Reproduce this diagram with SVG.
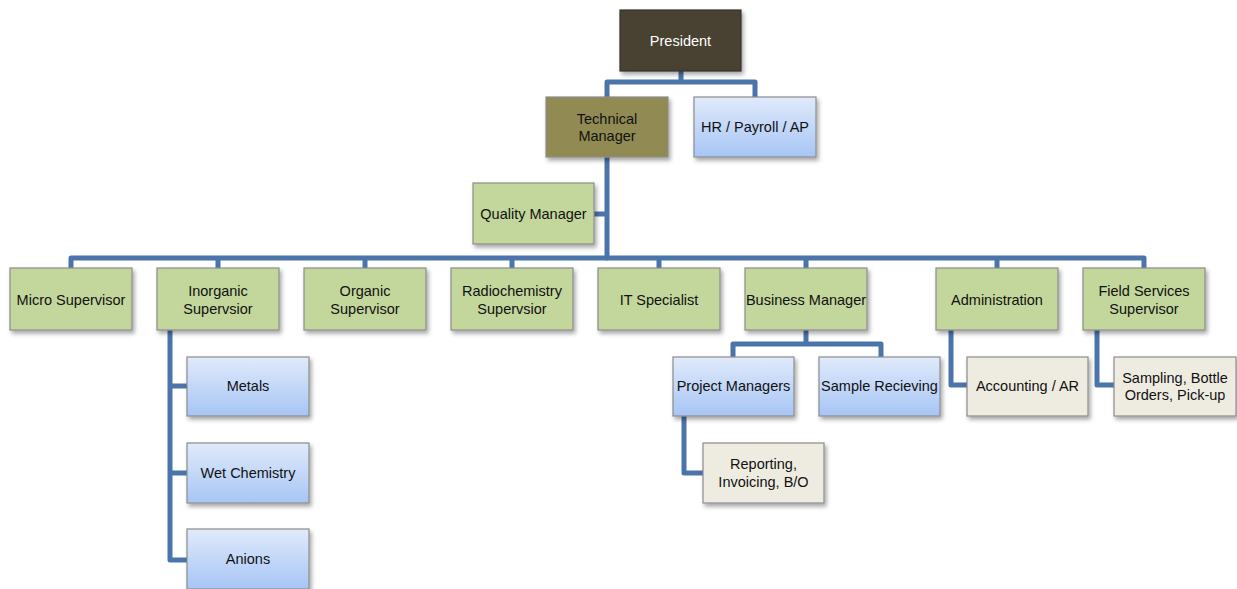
<svg xmlns="http://www.w3.org/2000/svg" width="1237" height="589" viewBox="0 0 1237 589">
<defs>
<linearGradient id="blue" x1="0" y1="0" x2="0" y2="1"><stop offset="0" stop-color="#e0eafb"/><stop offset="1" stop-color="#a7c5f5"/></linearGradient>
<filter id="sh" x="-10%" y="-10%" width="130%" height="140%"><feDropShadow dx="2" dy="3" stdDeviation="2" flood-color="#000" flood-opacity="0.35"/></filter>
<style>
.b{stroke:#8c8c8c;stroke-width:1.2;filter:url(#sh)}
.pres{fill:#4a4330;stroke:#333}
.tm{fill:#918a53}
.bl{fill:url(#blue)}
.gr{fill:#c3d69b}
.be{fill:#eeece1}
text{font-family:"Liberation Sans",Arial,sans-serif;font-size:14.5px;fill:#111;text-anchor:middle}
.w{fill:#fff}
.c{fill:none;stroke:#4a74aa;stroke-width:5;stroke-linejoin:round;stroke-linecap:round}
</style>
</defs>
<rect width="1237" height="589" fill="#fff"/>
<g id="connectors">
<path class="c" d="M681 71V82H607V97M681 82H755V97"/>
<path class="c" d="M607 157V258M594 214H607"/>
<path class="c" d="M71 268V258H1144V268M218 258V268M365 258V268M512 258V268M659 258V268M806 258V268M997 258V268"/>
<path class="c" d="M170 330V560H187M170 386H187M170 473H187"/>
<path class="c" d="M806 330V344H733V357M806 344H881V357"/>
<path class="c" d="M684 416V473H703"/>
<path class="c" d="M951 330V385H967"/>
<path class="c" d="M1097 330V385H1114"/>
</g>
<g id="president"><rect class="b pres" x="620" y="10" width="121" height="61"/><text class="w" x="680.5" y="46">President</text></g>
<g id="technical-manager"><rect class="b tm" x="546" y="97" width="122" height="60"/><text x="607" y="124">Technical</text><text x="607" y="141">Manager</text></g>
<g id="hr"><rect class="b bl" x="694" y="97" width="122" height="60"/><text x="755" y="132">HR / Payroll / AP</text></g>
<g id="quality-manager"><rect class="b gr" x="473" y="183" width="121" height="61"/><text x="533.5" y="219">Quality Manager</text></g>
<g id="micro"><rect class="b gr" x="10" y="268" width="122" height="62"/><text x="71" y="305">Micro Supervisor</text></g>
<g id="inorganic"><rect class="b gr" x="157" y="268" width="122" height="62"/><text x="218" y="296">Inorganic</text><text x="218" y="314">Supervsior</text></g>
<g id="organic"><rect class="b gr" x="304" y="268" width="122" height="62"/><text x="365" y="296">Organic</text><text x="365" y="314">Supervisor</text></g>
<g id="radiochemistry"><rect class="b gr" x="451" y="268" width="122" height="62"/><text x="512" y="296">Radiochemistry</text><text x="512" y="314">Supervsior</text></g>
<g id="it"><rect class="b gr" x="598" y="268" width="122" height="62"/><text x="659" y="305">IT Specialist</text></g>
<g id="business"><rect class="b gr" x="745" y="268" width="122" height="62"/><text x="806" y="305">Business Manager</text></g>
<g id="administration"><rect class="b gr" x="936" y="268" width="122" height="62"/><text x="997" y="305">Administration</text></g>
<g id="field"><rect class="b gr" x="1083" y="268" width="122" height="62"/><text x="1144" y="296">Field Services</text><text x="1144" y="314">Supervisor</text></g>
<g id="metals"><rect class="b bl" x="187" y="357" width="122" height="59"/><text x="248" y="391">Metals</text></g>
<g id="wet-chemistry"><rect class="b bl" x="187" y="443" width="122" height="60"/><text x="248" y="478">Wet Chemistry</text></g>
<g id="anions"><rect class="b bl" x="187" y="529" width="122" height="60"/><text x="248" y="564">Anions</text></g>
<g id="project-managers"><rect class="b bl" x="673" y="357" width="121" height="59"/><text x="733.5" y="391">Project Managers</text></g>
<g id="sample-receiving"><rect class="b bl" x="819" y="357" width="121" height="59"/><text x="879.5" y="391">Sample Recieving</text></g>
<g id="reporting"><rect class="b be" x="703" y="443" width="121" height="60"/><text x="763.5" y="469">Reporting,</text><text x="763.5" y="487">Invoicing, B/O</text></g>
<g id="accounting"><rect class="b be" x="967" y="357" width="121" height="59"/><text x="1027.5" y="391">Accounting / AR</text></g>
<g id="sampling"><rect class="b be" x="1114" y="357" width="122" height="59"/><text x="1175" y="383">Sampling, Bottle</text><text x="1175" y="400">Orders, Pick-up</text></g>
</svg>
